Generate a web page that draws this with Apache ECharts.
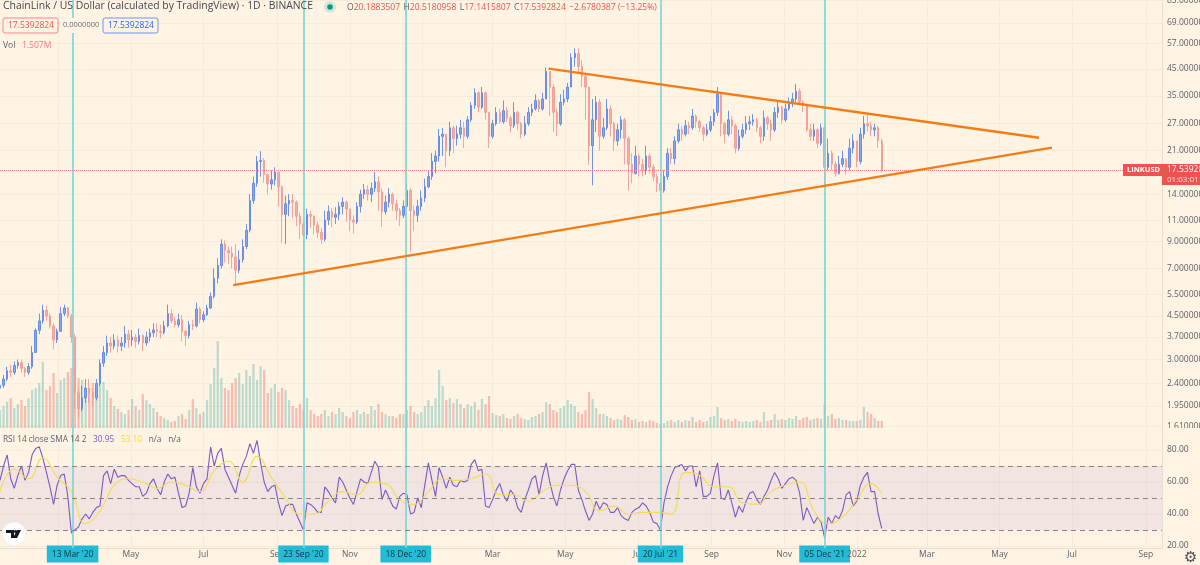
<!DOCTYPE html>
<html>
<head>
<meta charset="utf-8">
<style>html,body{margin:0;padding:0;background:#fff4e4;overflow:hidden}#myChart{width:1200px;height:565px}</style>
<script src="https://cdn.jsdelivr.net/npm/echarts@6/dist/echarts.min.js"></script>
</head>
<body>
<div id="myChart"></div>
<script>
// bars in 3 day steps, first bar 12 Jan 2020
var firstBar = Date.UTC(2020, 0, 12);
var DAY = 86400000;
var barStepDays = 3;
var firstOpen = 2.3;

var closes = [
  2.36,2.5,2.7,2.66,2.84,2.92,2.76,2.66,2.81,3.2,
  3.94,4.3,4.75,4.5,4.1,3.6,3.9,4.6,4.85,4.5,
  3.7,2.2,1.9,2.1,2.3,2.2,2.1,2.4,2.9,3.2,
  3.5,3.4,3.6,3.4,3.5,3.8,3.6,3.7,3.55,3.75,
  3.5,3.7,3.85,3.95,3.9,3.85,4.1,4.6,4.3,4.15,
  4.35,3.9,3.75,4.15,4.1,4.8,4.35,4.55,4.85,5.4,
  6.4,7.2,8.8,8.3,8.1,7.8,6.9,7.6,8.6,10.0,
  13.2,15.5,19.0,19.2,16.8,15.4,16.0,17.2,15.0,11.6,
  12.8,13.2,13.0,11.4,10.6,9.6,11.6,11.4,10.5,9.8,
  9.2,11.0,11.9,11.3,11.6,12.5,13.0,12.2,11.0,10.8,
  12.5,14.0,14.6,14.0,14.8,15.7,14.3,11.9,13.0,14.0,
  12.8,12.0,11.5,12.5,14.5,12.0,11.5,12.5,13.5,15.0,
  16.5,19.0,20.0,24.0,24.5,21.0,26.0,23.5,24.5,26.0,
  24.0,28.0,32.0,36.0,31.5,36.0,30.0,24.0,27.0,30.0,
  27.5,30.5,28.5,26.5,30.0,27.0,24.5,27.0,30.0,31.0,
  33.5,31.0,34.0,44.0,38.0,30.0,27.0,33.0,34.0,38.0,
  50.0,52.0,46.0,42.0,38.0,22.0,28.0,33.0,24.0,26.0,
  31.0,27.0,23.0,25.5,28.0,23.5,18.5,17.0,20.0,18.5,
  17.5,20.0,18.0,16.5,15.5,14.5,16.5,20.5,19.5,23.0,
  25.5,24.5,26.5,26.0,29.0,27.5,26.0,24.5,25.5,27.5,
  30.0,35.5,27.0,24.5,28.0,26.5,21.5,24.0,25.5,27.0,
  27.5,28.0,26.0,24.0,28.5,27.0,25.5,30.0,31.5,28.0,
  31.0,32.5,34.0,36.5,33.0,32.0,25.5,24.0,25.5,22.5,
  26.0,18.0,20.5,18.5,17.0,18.5,19.5,18.0,21.5,23.0,
  19.0,24.5,27.0,26.5,25.5,26.0,23.0,17.54
];
var highs = [
  2.45,2.6,2.8,2.85,2.95,3.0,3.0,2.8,2.9,3.4,
  4.0,4.6,5.0,4.95,4.6,4.2,4.0,4.9,5.0,4.9,
  4.6,3.8,2.3,2.35,2.5,2.5,2.3,2.5,3.0,3.4,
  3.75,3.7,3.8,3.75,3.7,4.1,3.95,3.95,3.8,4.0,
  3.8,3.9,4.0,4.2,4.2,4.15,4.3,5.0,4.8,4.45,
  4.6,4.55,3.95,4.3,4.35,5.1,4.9,4.7,5.0,5.6,
  7.0,7.7,9.2,9.1,8.6,8.6,8.8,8.3,9.2,10.6,
  14.0,16.5,20.0,20.9,19.6,17.0,17.5,18.0,17.0,15.2,
  13.8,14.0,14.0,13.2,11.8,11.0,12.2,12.0,11.5,10.8,
  10.2,12.0,12.6,12.3,12.4,13.0,13.6,13.2,12.2,11.5,
  13.0,14.6,15.4,15.2,15.6,17.2,16.5,14.8,13.8,14.8,
  14.2,13.3,12.3,13.2,15.6,14.8,12.6,13.3,14.5,16.2,
  17.5,20.5,21.0,25.7,26.0,24.5,27.5,26.5,26.5,28.0,
  27.5,29.0,33.0,37.5,36.5,38.0,36.5,30.0,28.0,31.5,
  31.0,33.5,31.5,29.0,33.0,30.5,27.5,29.0,31.5,32.5,
  35.5,34.0,36.0,45.5,43.5,39.0,31.0,35.5,37.0,39.5,
  52,54.5,54.5,49,43,38,34,35,34,28.5,
  34,32,27.5,27,29.0,28.5,24,20.5,22,20.5,
  19.5,22,20.5,18.5,17,15.8,17.5,21.5,21.5,24,
  27,26.5,28,27.5,31,29.5,28,26.5,27,29,
  31,38,35,27.5,30.5,29,27,25.5,27,29,
  29,29.5,28.5,26.5,30.5,29,28,31.5,33.5,32,
  32.5,34.5,36,39,37.5,33.5,32.5,27,27,26,
  27,26.5,23.5,21,19,20,21,19.5,23.5,24.5,
  22.5,26,29,29.6,27.5,27,26.5,23.5
];
var lows = [
  2.25,2.3,2.45,2.55,2.6,2.75,2.65,2.55,2.6,2.75,
  3.2,3.8,4.2,4.3,4.0,3.3,3.5,3.9,4.5,4.4,
  3.5,1.9,1.75,1.85,2.0,2.0,1.95,2.05,2.35,2.8,
  3.1,3.2,3.3,3.2,3.25,3.35,3.35,3.4,3.35,3.45,
  3.25,3.4,3.55,3.7,3.7,3.65,3.8,4.05,4.2,4.05,
  4.05,3.55,3.4,3.65,3.95,4.05,4.2,4.25,4.5,4.8,
  5.3,6.1,7.0,7.4,7.3,7.0,6.0,6.7,7.4,8.4,
  9.8,12.8,15.0,16.5,15.6,14.0,14.6,15.2,12.5,8.9,
  8.8,11.4,11.2,10.4,9.2,7.6,9.2,10.2,9.6,9.3,
  8.8,9.0,10.5,10.3,10.6,11.0,11.6,10.8,9.9,9.7,
  10.6,11.8,13.4,13.2,13.0,14.3,12.0,10.3,11.6,12.4,
  12.0,11.0,10.4,11.2,12.2,8.2,9.9,10.8,12.0,13.0,
  14.8,16.0,17.0,19.0,20.0,18.0,20.0,20.5,22.0,23.5,
  21.5,23.5,27.5,31.0,30.0,31.0,28.0,21.5,23.5,26.5,
  27.0,27.0,27.5,25.0,26.0,25.5,23.5,24.0,26.5,29.0,
  30.5,30.0,30.5,34.0,29.0,25.0,24.0,26.5,32.0,33.0,
  38,46,43,38,28,18.4,15.2,25,21,23.5,
  25.5,24,21,22,23.5,18.5,14.5,15.5,16.8,16.5,
  16.5,16.8,17,15.8,14.3,13.2,14.2,16,18.5,18.5,
  22.5,23,24,24.5,25.5,26,25,23,24,25,
  26.5,29,24,22.5,24,24.5,20.5,21,23.5,24.5,
  25.5,26.5,25,22.5,23,25.5,23,25,28.5,27,
  27.5,30.5,31.5,33,32,30,25,23,23,21.5,
  22,14.8,17.5,17.5,16.5,16.8,18,16.8,17.5,20.5,
  18,18.5,23.5,25,24,24,21.5,17.14
];
// volume is relative, roughly 0.2M per unit
var volumes = [
  18,22,26,30,20,24,28,22,30,38,
  40,45,66,38,42,55,35,48,50,56,
  60,70,50,48,38,40,45,42,50,46,
  38,30,22,19,16,14,18,29,22,18,
  34,28,24,20,16,12,10,8,6,7,
  12,14,9,18,29,20,14,16,28,44,
  60,87,50,40,38,45,50,55,44,58,
  52,64,48,62,58,35,40,44,36,40,
  38,28,22,20,24,18,30,18,14,12,
  14,18,12,16,14,20,16,12,10,16,
  18,14,16,14,22,18,24,16,14,12,
  12,10,14,14,18,22,16,14,16,22,
  28,22,30,58,42,28,30,25,29,24,
  20,24,22,26,18,29,24,32,15,13,
  12,14,10,9,12,14,10,9,8,11,
  12,14,16,26,24,18,16,20,22,28,
  24,22,16,14,18,36,29,20,14,14,
  12,10,8,9,8,13,11,8,9,6,
  7,6,8,7,5,4,5,7,8,6,
  8,6,8,7,11,6,8,6,7,11,
  12,21,10,8,9,7,9,7,6,7,
  6,7,8,6,16,7,8,14,8,9,
  8,10,9,12,8,10,11,8,9,10,
  9,24,12,14,9,10,8,8,7,7,
  7,8,21,16,14,10,7,7
];
var rsi = [
  61,70,77,62,56,64,70,61,66,77,
  81,82,75,66,57,46,58,64,65,51,
  28,30,32,37,40,37,41,44,45,64,
  67,59,68,63,64,64,61,59,57,57,
  51,53,59,62,56,52,60,65,62,63,
  53,44,45,53,69,57,53,59,62,82,
  70,78,81,68,63,58,53,64,71,76,
  84,78,86,72,60,54,57,58,47,39,
  45,46,46,40,35,30,47,46,44,41,
  41,57,54,50,47,63,60,55,50,46,
  54,62,60,59,66,73,69,49,55,50,
  45,43,51,53,52,40,41,50,44,58,
  72,61,51,69,63,56,63,58,57,61,
  60,61,71,74,67,68,45,44,49,55,
  59,52,48,55,52,44,41,49,55,62,
  64,52,64,72,60,51,45,55,62,67,
  71,71,55,49,42,36,40,48,43,47,
  46,41,41,44,39,37,36,41,43,44,
  47,45,41,35,34,30,47,57,64,69,
  70,71,67,70,70,57,67,51,51,53,
  64,72,50,49,55,47,38,45,41,48,
  53,54,49,46,51,55,61,66,62,56,
  59,62,63,61,53,36,44,39,34,38,
  35,25,38,34,39,37,42,52,54,45,
  48,58,63,66,54,54,40,31
];
// rsi sma, every 4th bar and then the last one
var smaEveryBars = 4;
var rsiSma = [54,68,62,75,63,54,34,42,58,62,60,56,60,58,54,67,73,60,76,63,50,40,40,48,54,52,60,59,49,46,54,62,61,62,65,52,52,48,54,58,58,54,42,45,40,41,41,40,66,64,57,57,47,46,54,58,60,42,34,38,49,59,53];

var lowerTrendDates = ['2020-07-26','2022-06-14'];
var lowerTrendPrices = [6.0,21.6];
var upperTrendDates = ['2021-04-17','2022-06-03'];
var upperTrendPrices = [45.1,23.7];

var lastPrice = 17.5392824;
var priceTicks = [85,69,57,45,35,27,21,14,11,9,7,5.5,4.5,3.7,3.0,2.4,1.95,1.61];
var rsiTicks = [20,40,60,80];
var rsiLevels = [70,50,30];
var flagDates = ['2020-03-13','2020-09-23','2020-12-18','2021-07-20','2021-12-05'];
var flagTexts = ["13 Mar '20","23 Sep '20","18 Dec '20","20 Jul '21","05 Dec '21"];
var monthDates = ['2020-03-01','2020-05-01','2020-07-01','2020-09-01','2020-11-01','2021-01-01','2021-03-01','2021-05-01','2021-07-01','2021-09-01','2021-11-01','2022-01-01','2022-03-01','2022-05-01','2022-07-01','2022-09-01'];
var monthTexts = ['','May','Jul','Sep','Nov','','Mar','May','Jul','Sep','Nov','2022','Mar','May','Jul','Sep'];

var FONT = '"Open Sans", sans-serif';
var BG = '#fff4e4';
var GRID_COLOR = '#f6ecdd';
var TEXT_COLOR = '#5d606b';
var RED = '#ef5350';
var xMax = firstBar + 976.5 * DAY;

function ts(s) { return new Date(s + 'T00:00:00Z').getTime(); }
function barTime(i) { return firstBar + i * barStepDays * DAY; }

var candleData = [], volumeData = [], rsiData = [], smaData = [];
for (var i = 0; i < closes.length; i++) {
    var open = i ? closes[i - 1] : firstOpen;
    candleData.push([barTime(i), open, closes[i], Math.min(lows[i], open, closes[i]), Math.max(highs[i], open, closes[i])]);
    volumeData.push({
        value: [barTime(i), volumes[i]],
        itemStyle: {color: closes[i] >= open ? 'rgba(38,166,154,.32)' : 'rgba(239,83,80,.36)'}
    });
    rsiData.push([barTime(i), rsi[i]]);
}
for (var k = 0; k < rsiSma.length; k++) {
    smaData.push([barTime(Math.min(k * smaEveryBars, closes.length - 1)), rsiSma[k]]);
}

var labelMap = {};
monthDates.forEach(function (d, n) { labelMap[ts(d)] = monthTexts[n] ? '{month|' + monthTexts[n] + '}' : ''; });
flagDates.forEach(function (d, n) { labelMap[ts(d)] = '{flag|' + flagTexts[n] + '}'; });
var allXTicks = monthDates.concat(flagDates).map(ts).sort(function (a, b) { return a - b; });

// time values on a value axis: customValues does not work on a time axis
function xAxisFor(grid, showLabels) {
    return {
        type: 'value', gridIndex: grid, min: firstBar, max: xMax, scale: true,
        axisLine: {show: showLabels, onZero: false, lineStyle: {color: '#e8dfd1'}},
        axisTick: {show: false, customValues: allXTicks},
        axisLabel: {
            show: showLabels, customValues: allXTicks, margin: 1, color: TEXT_COLOR,
            fontFamily: FONT, fontSize: 8.5, hideOverlap: false,
            formatter: function (v) { return labelMap[v] || ''; },
            rich: {
                month: {color: TEXT_COLOR, fontFamily: FONT, fontSize: 8.5, lineHeight: 10, padding: [5, 0, 3, 0]},
                flag: {backgroundColor: '#22bcd6', color: '#17323a', fontFamily: FONT, fontSize: 8.5, lineHeight: 10, padding: [5, 5, 3, 5]}
            }
        },
        splitLine: {show: true, lineStyle: {color: GRID_COLOR, width: 1}}
    };
}

function flagLines() {
    return {
        silent: true, symbol: 'none', animation: false,
        label: {show: false},
        lineStyle: {color: '#7fd8d6', width: 1.7, type: 'solid'},
        data: flagDates.map(function (d) { return {xAxis: ts(d)}; })
    };
}

var myChart = echarts.init(document.getElementById('myChart'), null, {renderer: 'canvas'});
myChart.setOption({
    animation: false,
    backgroundColor: BG,
    // outerBoundsMode none: the labels run off the page on purpose, the grids must not shrink for them
    grid: [
        {left: 0, width: 1162, top: 0, height: 428, outerBoundsMode: 'none'},
        {left: 0, width: 1162, top: 340, height: 88, outerBoundsMode: 'none'},
        {left: 0, width: 1162, top: 428, height: 120, outerBoundsMode: 'none'}
    ],
    xAxis: [xAxisFor(0, false), xAxisFor(1, false), xAxisFor(2, true)],
    yAxis: [
        {
            type: 'log', logBase: Math.E, gridIndex: 0, position: 'right', min: 1.585, max: 85.5, scale: true,
            axisLine: {show: true, lineStyle: {color: '#e8dfd1'}},
            axisTick: {show: false, customValues: priceTicks},
            axisLabel: {
                customValues: priceTicks, margin: 5, color: TEXT_COLOR,
                fontFamily: FONT, fontSize: 8.5, hideOverlap: false,
                formatter: function (v) { return Number(v).toFixed(6); }
            },
            splitLine: {show: true, lineStyle: {color: GRID_COLOR}}
        },
        {
            type: 'value', gridIndex: 1, min: 0, max: 88, show: false,
            splitLine: {show: false}
        },
        {
            type: 'value', gridIndex: 2, position: 'right', min: 18.75, max: 93.75,
            axisLine: {show: true, lineStyle: {color: '#e8dfd1'}},
            axisTick: {show: false, customValues: rsiTicks},
            axisLabel: {
                customValues: rsiTicks, margin: 5, color: TEXT_COLOR, fontFamily: FONT, fontSize: 8.5,
                formatter: function (v) { return Number(v).toFixed(2); }
            },
            splitLine: {show: true, lineStyle: {color: GRID_COLOR}}
        }
    ],
    series: [
        {
            name: 'Vol', type: 'bar', xAxisIndex: 1, yAxisIndex: 1, barWidth: 2.2,
            data: volumeData, z: 2, silent: true
        },
        {
            name: 'LINKUSD', type: 'candlestick', xAxisIndex: 0, yAxisIndex: 0, barWidth: 2, z: 3,
            encode: {x: 0, y: [1, 2, 3, 4]},
            data: candleData,
            itemStyle: {color: '#82a9ee', color0: '#f7aaa2', borderColor: '#5d88e6', borderColor0: '#f39c94', borderWidth: 0.9},
            markLine: {
                silent: true, symbol: 'none', animation: false, label: {show: false},
                data: flagLines().data.concat([{yAxis: lastPrice, lineStyle: {color: '#f58b88', type: 'dotted', width: 1}}]),
                lineStyle: flagLines().lineStyle
            }
        },
        {
            name: 'lower trend', type: 'line', xAxisIndex: 0, yAxisIndex: 0, symbol: 'none', z: 5,
            lineStyle: {color: '#f57c14', width: 2.4},
            data: lowerTrendDates.map(function (d, n) { return [ts(d), lowerTrendPrices[n]]; })
        },
        {
            name: 'upper trend', type: 'line', xAxisIndex: 0, yAxisIndex: 0, symbol: 'none', z: 5,
            lineStyle: {color: '#f57c14', width: 2.4},
            data: upperTrendDates.map(function (d, n) { return [ts(d), upperTrendPrices[n]]; })
        },
        {
            name: 'RSI', type: 'line', xAxisIndex: 2, yAxisIndex: 2, symbol: 'none', z: 4,
            lineStyle: {color: '#7e57c2', width: 1.1},
            data: rsiData,
            markArea: {
                silent: true, animation: false,
                itemStyle: {color: 'rgba(126,87,194,.1)'},
                data: [[{yAxis: rsiLevels[0]}, {yAxis: rsiLevels[2]}]]
            },
            markLine: flagLines()
        },
        {
            name: 'RSI levels', type: 'line', xAxisIndex: 2, yAxisIndex: 2, symbol: 'none', z: 3, data: [],
            markLine: {
                silent: true, symbol: 'none', animation: false, label: {show: false},
                lineStyle: {color: '#85858c', type: [5, 4], width: 1},
                data: rsiLevels.map(function (v) { return {yAxis: v}; })
            }
        },
        {
            name: 'RSI SMA', type: 'line', xAxisIndex: 2, yAxisIndex: 2, symbol: 'none', z: 4, smooth: true,
            lineStyle: {color: '#f3dc55', width: 1.1},
            data: smaData
        }
    ],
    graphic: [
        // legend text, tags and logo
        {type: 'text', x: 3, y: 1, z: 20, style: {text: 'ChainLink / US Dollar (calculated by TradingView) · 1D · BINANCE', font: '10.4px ' + FONT, fill: '#444650'}},
        {type: 'circle', shape: {cx: 330, cy: 7, r: 6}, z: 20, style: {fill: '#d4e8da'}},
        {type: 'circle', shape: {cx: 330, cy: 7, r: 2.8}, z: 20, style: {fill: '#089981'}},
        {type: 'text', x: 347, y: 2, z: 20, style: {
            text: '{k|O}{v|20.1883507} {k|H}{v|20.5180958} {k|L}{v|17.1415807} {k|C}{v|17.5392824} {v|−2.6780387 (−13.25%)}',
            rich: {k: {fill: '#5d606b', font: '8.6px ' + FONT, lineHeight: 11}, v: {fill: '#ef5350', font: '8.6px ' + FONT, lineHeight: 11}}
        }},
        {type: 'rect', shape: {x: 60, y: 18, width: 40, height: 15}, z: 19, style: {fill: BG}},
        {type: 'rect', shape: {x: 3, y: 18, width: 55, height: 15, r: 2}, z: 20, style: {fill: BG, stroke: '#f7868a', lineWidth: 1}},
        {type: 'text', x: 8, y: 21, z: 21, style: {text: '17.5392824', font: '8.5px ' + FONT, fill: '#ef5350'}},
        {type: 'text', x: 63, y: 21, z: 21, style: {text: '0.0000000', font: '7.5px ' + FONT, fill: '#6a6d78'}},
        {type: 'rect', shape: {x: 103, y: 18, width: 55, height: 15, r: 2}, z: 20, style: {fill: BG, stroke: '#6f92f5', lineWidth: 1}},
        {type: 'text', x: 108, y: 21, z: 21, style: {text: '17.5392824', font: '8.5px ' + FONT, fill: '#2962ff'}},
        {type: 'text', x: 3, y: 40, z: 20, style: {
            text: '{k|Vol}  {v|1.507M}',
            rich: {k: {fill: '#5d606b', font: '8.5px ' + FONT}, v: {fill: '#f47c7c', font: '8.5px ' + FONT}}
        }},
        {type: 'text', x: 3, y: 434, z: 20, style: {
            text: '{k|RSI 14 close SMA 14 2}  {p|30.95}  {y|53.10}  {k|n/a}  {k|n/a}',
            rich: {
                k: {fill: '#5d606b', font: '8.3px ' + FONT},
                p: {fill: '#7e57c2', font: '8.3px ' + FONT},
                y: {fill: '#f0d83a', font: '8.3px ' + FONT}
            }
        }},
        {type: 'rect', shape: {x: 1163, y: 428, width: 37, height: 7}, z: 30, style: {fill: BG}},
        {type: 'rect', shape: {x: 1123, y: 164, width: 39, height: 12}, z: 20, style: {fill: RED}},
        {type: 'text', x: 1127, y: 165.5, z: 21, style: {text: 'LINKUSD', font: 'bold 7.5px ' + FONT, fill: '#fff'}},
        {type: 'rect', shape: {x: 1162, y: 164, width: 38, height: 21}, z: 20, style: {fill: RED}},
        {type: 'text', x: 1167, y: 165.5, z: 21, style: {text: '17.539282', font: '8.5px ' + FONT, fill: '#fff'}},
        {type: 'text', x: 1167, y: 175.5, z: 21, style: {text: '01:03:01', font: '8px ' + FONT, fill: '#fde3e3'}},
        {type: 'circle', shape: {cx: 14, cy: 534, r: 12}, z: 20, style: {fill: '#fff', stroke: '#f3eee6', lineWidth: 1}},
        {type: 'polygon', shape: {points: [[6, 530], [14, 530], [14, 538], [11, 538], [11, 533], [6, 533]]}, z: 21, style: {fill: '#131722'}},
        {type: 'polygon', shape: {points: [[17, 530], [21, 530], [17, 538], [13, 538]]}, z: 21, style: {fill: '#131722'}},
        {type: 'circle', shape: {cx: 15.5, cy: 531.5, r: 1.5}, z: 21, style: {fill: '#131722'}},
        {type: 'text', x: 1184, y: 551, z: 21, style: {text: '⚙', font: '15px "DejaVu Sans"', fill: '#4a4d57'}}
    ]
});
</script>
</body>
</html>
